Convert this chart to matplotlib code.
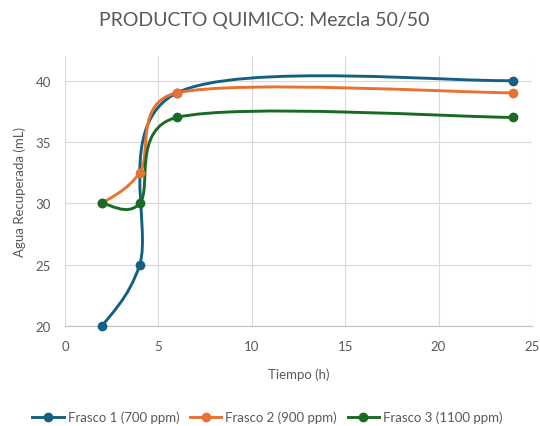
import numpy as np
import matplotlib.pyplot as plt
from matplotlib.path import Path
from matplotlib.patches import PathPatch
from matplotlib.lines import Line2D

tiempo = [2, 4, 6, 24]
frasco1 = [20, 25, 39, 40]
frasco2 = [30, 32.5, 39, 39]
frasco3 = [30, 30, 37, 37]
labels = ['Frasco 1 (700 ppm)', 'Frasco 2 (900 ppm)', 'Frasco 3 (1100 ppm)']
colors = ['#156082', '#E97132', '#196B24']

plt.rcParams['font.family'] = ['Lato', 'DejaVu Sans']
gray = '#595959'

XLIM = (0, 25)
YLIM = (20, 42)
AX_RECT = [0.1204, 0.234, 0.8646, 0.6325]
FIG_W, FIG_H = 540, 427


def smooth_path(x, y):
    # Excel-style smoothed line: Catmull-Rom bezier, tangents capped at half
    # the segment length, worked out in pixel space
    sx = AX_RECT[2] * FIG_W / (XLIM[1] - XLIM[0])
    sy = AX_RECT[3] * FIG_H / (YLIM[1] - YLIM[0])
    scale = np.array([sx, sy])
    pts = np.column_stack([x, y]).astype(float) * scale
    n = len(pts)
    verts = [pts[0]]
    codes = [Path.MOVETO]
    for i in range(n - 1):
        p0 = pts[max(i - 1, 0)]
        p1 = pts[i]
        p2 = pts[i + 1]
        p3 = pts[min(i + 2, n - 1)]
        d12 = np.hypot(*(p2 - p1))
        t1 = (p2 - p0) / 6
        t2 = (p3 - p1) / 6
        l1, l2 = np.hypot(*t1), np.hypot(*t2)
        if l1 > d12 / 2:
            t1 *= d12 / 2 / l1
        if l2 > d12 / 2:
            t2 *= d12 / 2 / l2
        verts += [p1 + t1, p2 - t2, p2]
        codes += [Path.CURVE4] * 3
    return Path(np.array(verts) / scale, codes)


fig = plt.figure(figsize=(5.4, 4.27), dpi=100)
ax = fig.add_axes(AX_RECT)

handles = []
for ys, lab, c in zip([frasco1, frasco2, frasco3], labels, colors):
    ax.add_patch(PathPatch(smooth_path(tiempo, ys), facecolor='none',
                           edgecolor=c, lw=2.1, capstyle='round', zorder=3,
                           clip_on=False))
    ax.plot(tiempo, ys, 'o', color=c, ms=6, zorder=4, clip_on=False)
    handles.append(Line2D([], [], color=c, lw=2.1, marker='o', ms=6))

ax.set_xlim(*XLIM)
ax.set_ylim(*YLIM)
ax.set_xticks(range(0, 26, 5))
ax.set_yticks(range(20, 41, 5))
ax.grid(True, color='#d9d9d9', lw=0.8, zorder=0)
for s in ['top', 'right', 'left']:
    ax.spines[s].set_visible(False)
ax.spines['bottom'].set_color('#bfbfbf')
ax.tick_params(length=0, colors=gray, labelsize=9.5, pad=10)

ax.set_xlabel('Tiempo (h)', color=gray, fontsize=9.5, labelpad=11)
ax.set_ylabel('Agua Recuperada (mL)', color=gray, fontsize=9.5, labelpad=7)
fig.text(0.49, 0.953, 'PRODUCTO QUIMICO: Mezcla 50/50', ha='center', va='center',
         color=gray, fontsize=14)

fig.legend(handles, labels, loc='center', bbox_to_anchor=(0.495, 0.021), ncol=3,
           frameon=False, fontsize=9.5, labelcolor=gray, handlelength=2.4,
           handletextpad=0.3, columnspacing=0.8)

plt.savefig('out.png', dpi=100)
